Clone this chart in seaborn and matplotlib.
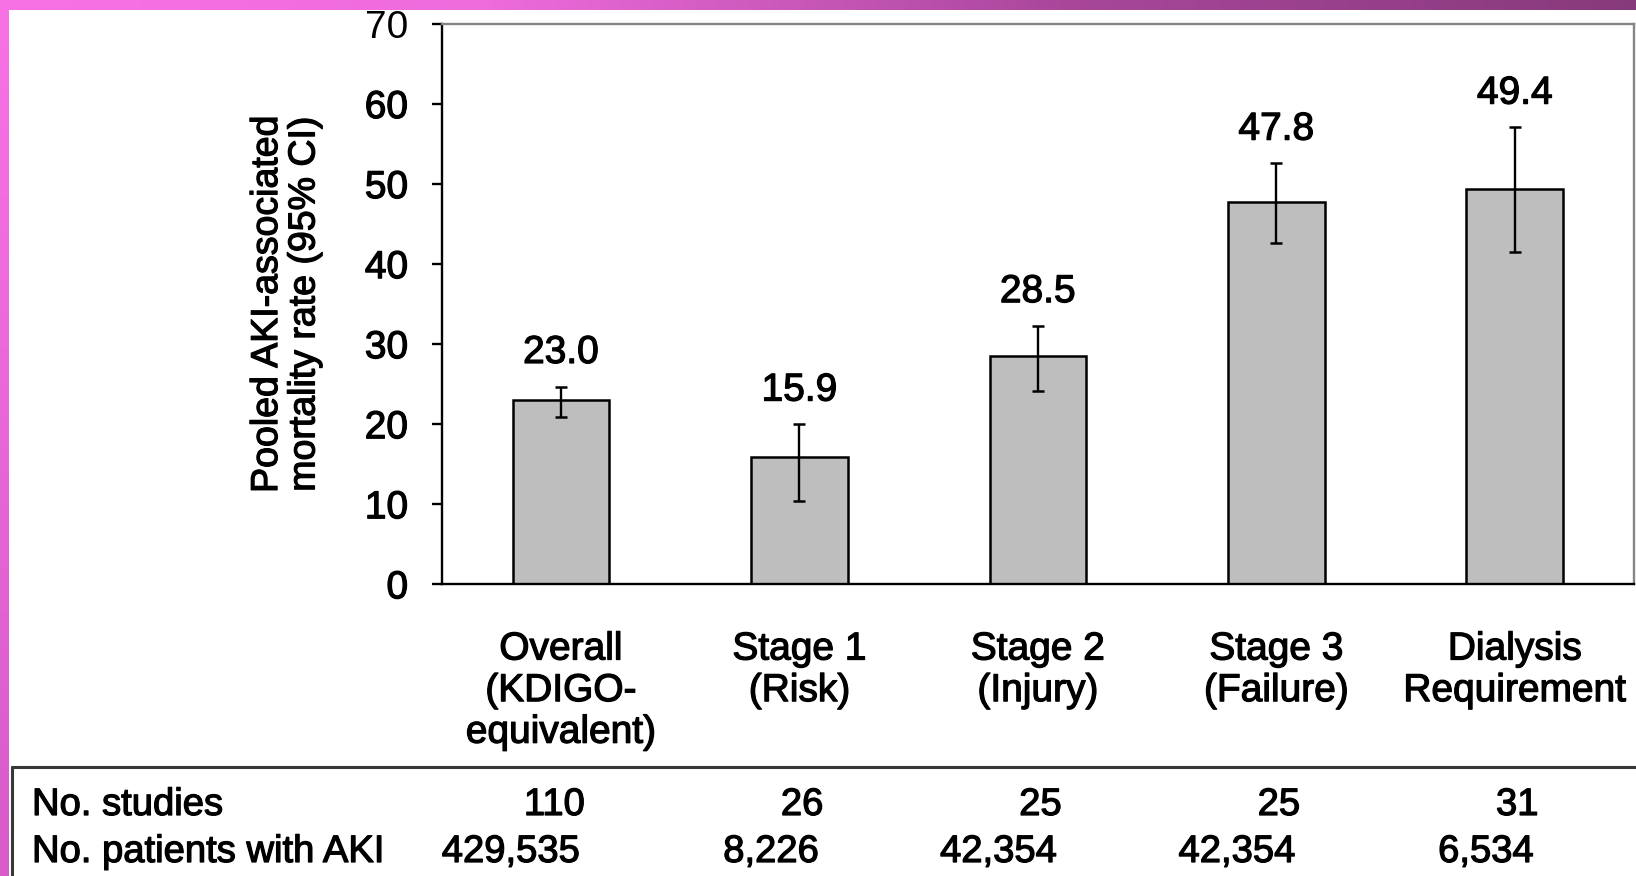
import numpy as np
import pandas as pd
import matplotlib
matplotlib.use("Agg")
import matplotlib.pyplot as plt
from matplotlib.colors import LinearSegmentedColormap
from matplotlib.lines import Line2D
from matplotlib.text import Text
from matplotlib import transforms
import matplotlib.patheffects as pe
import seaborn as sns

# dados
categorias = ["Overall\n(KDIGO-\nequivalent)", "Stage 1\n(Risk)", "Stage 2\n(Injury)",
              "Stage 3\n(Failure)", "Dialysis\nRequirement"]
taxas = [23.0, 15.9, 28.5, 47.8, 49.4]
ic_inf = [20.9, 10.4, 24.1, 42.6, 41.5]
ic_sup = [24.7, 20.0, 32.3, 52.6, 57.1]
n_estudos = ["110", "26", "25", "25", "31"]
n_pacientes = ["429,535", "8,226", "42,354", "42,354", "6,534"]
linhas_tabela = ["No. studies", "No. patients with AKI"]
y_ticks = [0, 10, 20, 30, 40, 50, 60, 70]

sns.set_style("white")
plt.rcParams['font.family'] = ['Liberation Sans', 'DejaVu Sans']
plt.rcParams['text.color'] = 'black'
plt.rcParams['axes.labelcolor'] = 'black'
plt.rcParams['xtick.color'] = 'black'
plt.rcParams['ytick.color'] = 'black'

fig = plt.figure(figsize=(16.36, 8.76), dpi=100)
fig.patch.set_facecolor("white")

# moldura rosa/roxa (faixa superior e esquerda)
W, H = 1636, 876
cm_topo = LinearSegmentedColormap.from_list(
    "topo", [(0, "#f872e6"), (0.3, "#ee6bdc"), (0.65, "#a9479b"), (1, "#873a7b")])
cm_lado = LinearSegmentedColormap.from_list("lado", ["#f872e6", "#d85bca"])
ax_topo = fig.add_axes([0, 1 - 10 / H, 1, 10 / H])
ax_topo.imshow(np.linspace(0, 1, 256)[np.newaxis, :], aspect="auto", cmap=cm_topo)
ax_topo.axis("off")
ax_lado = fig.add_axes([0, 0, 9 / W, 1 - 10 / H])
ax_lado.imshow(np.linspace(0, 1, 256)[:, np.newaxis], aspect="auto", cmap=cm_lado)
ax_lado.axis("off")

ax = fig.add_axes([441.7 / W, 1 - 584.3 / H, (1634 - 441.7) / W, (584.3 - 24) / H])

df = pd.DataFrame({"grupo": categorias, "taxa": taxas})
sns.barplot(data=df, x="grupo", y="taxa", color="#bebebe", saturation=1,
            edgecolor="black", linewidth=1.8, width=0.405, errorbar=None, ax=ax)

x = np.arange(len(categorias))
t = np.array(taxas)
ax.errorbar(x, t, yerr=[t - np.array(ic_inf), np.array(ic_sup) - t], fmt="none",
            ecolor="black", elinewidth=1.7, capsize=4.3, capthick=1.8, zorder=5)

for i, v in enumerate(taxas):
    ax.annotate(f"{v:.1f}", xy=(i, ic_sup[i]), xytext=(0, 17), textcoords="offset points",
                ha="center", va="baseline", fontsize=28)

ax.set_ylim(0, 70)
ax.set_yticks(y_ticks)
ax.set_xlim(-0.5, len(categorias) - 0.5)
ax.set_xticks(x)
ax.set_xticklabels(categorias, fontsize=28)
ax.set_xticks(np.arange(len(categorias) + 1) - 0.5, minor=True)
ax.tick_params(axis="x", which="major", length=0, pad=34)
ax.tick_params(axis="x", which="minor", length=9.5, width=1.7, direction="out", color="black")
ax.tick_params(axis="y", length=7.2, width=1.7, direction="out", pad=17, labelsize=28,
               left=True, color="black")
ax.set_xlabel("")
ax.set_ylabel("Pooled AKI-associated\nmortality rate (95% CI)", fontsize=27, linespacing=1.05)
ax.yaxis.set_label_coords(-0.100, 0.5)

for lado in ["left", "bottom"]:
    ax.spines[lado].set_color("black")
    ax.spines[lado].set_linewidth(1.7)
for lado in ["top", "right"]:
    ax.spines[lado].set_color("#858585")
    ax.spines[lado].set_linewidth(1.7)

# tabela abaixo do grafico
fig.add_artist(Line2D([11.7 / W, 1], [1 - 767 / H, 1 - 767 / H], color="#383838", lw=2.2))
fig.add_artist(Line2D([11.7 / W, 11.7 / W], [0, 1 - 767 / H], color="#383838", lw=2.2))

y_linhas = [1 - 815 / H, 1 - 862 / H]
for rot, yy in zip(linhas_tabela, y_linhas):
    fig.text(32 / W, yy, rot, fontsize=27.5, va="baseline", ha="left")

trans = transforms.blended_transform_factory(ax.transData, fig.transFigure)
for i in range(len(categorias)):
    ax.text(i + 0.1, y_linhas[0], n_estudos[i], transform=trans, fontsize=27.5,
            ha="right", va="baseline", clip_on=False)
    ax.text(i + 0.08, y_linhas[1], n_pacientes[i], transform=trans, fontsize=27.5,
            ha="right", va="baseline", clip_on=False)

# texto um pouco mais grosso, como no original
for txt in fig.findobj(Text):
    if txt.get_text():
        txt.set_path_effects([pe.withStroke(linewidth=0.9, foreground="black")])

fig.savefig("out.png", dpi=100)
